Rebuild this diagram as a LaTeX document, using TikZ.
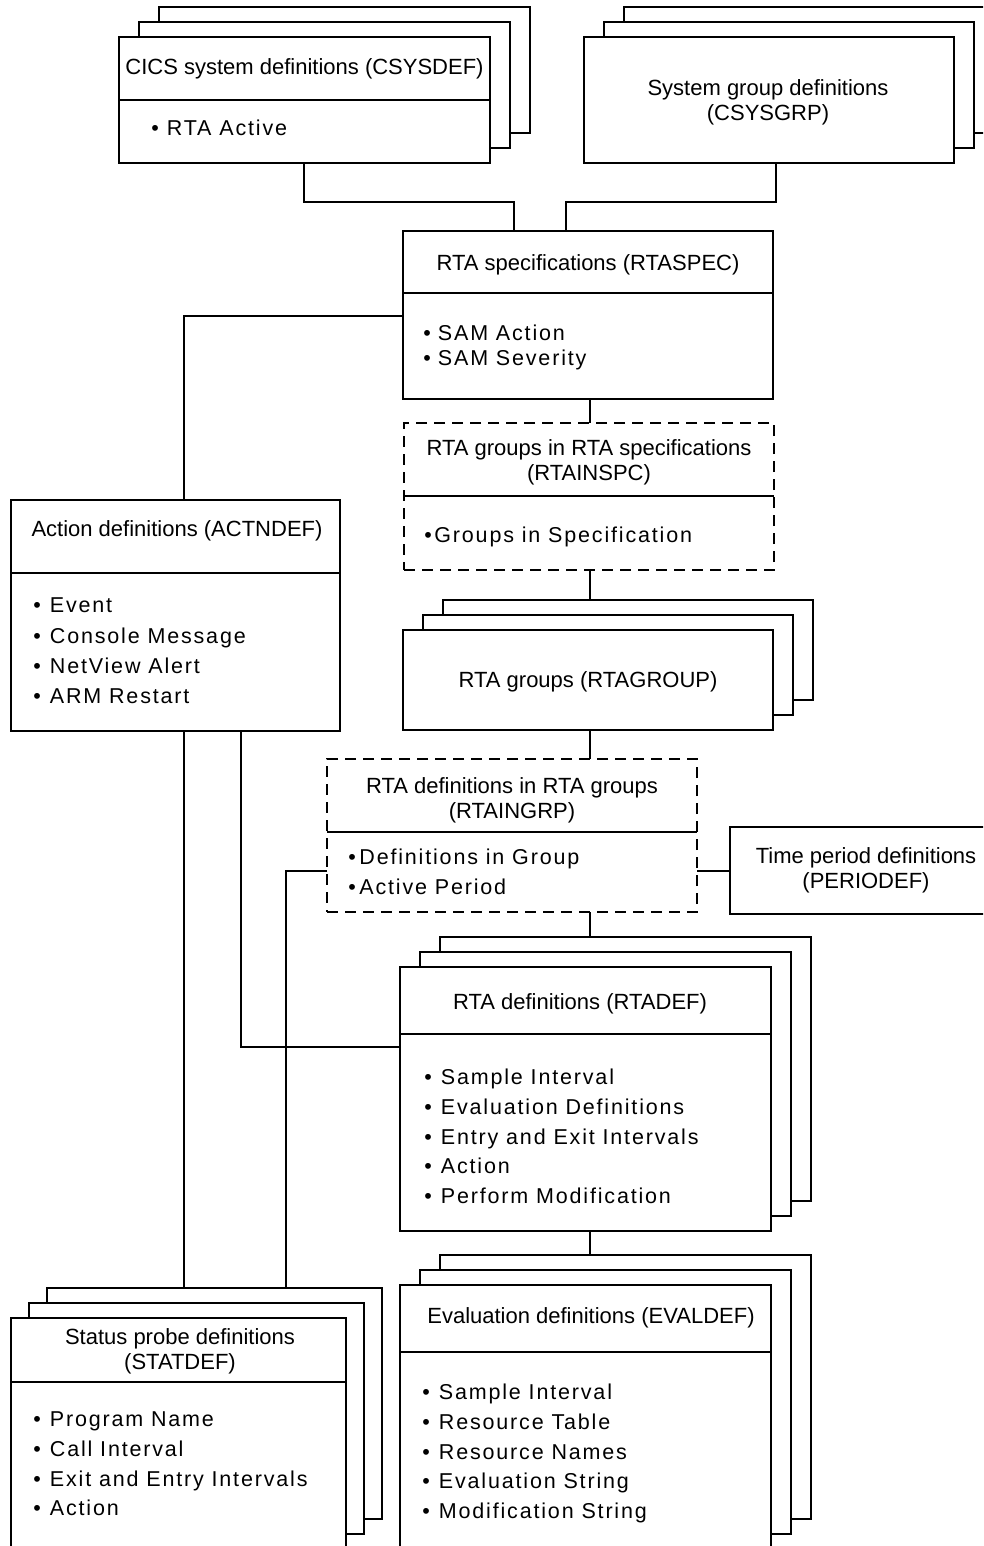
\documentclass[tikz,border=0pt]{standalone}
\usepackage{fontspec}
\setmainfont{Liberation Sans}
\newfontfamily\itemfamily{Liberation Sans}[LetterSpace=8.5]
\tikzset{
  box/.style={draw, line width=1.8pt, fill=white, rectangle, inner sep=0pt, outer sep=0pt, anchor=north west},
  dbox/.style={box, dash pattern=on 11pt off 7pt},
  conn/.style={line width=1.8pt},
  ttl/.style={font=\fontsize{22}{25}\selectfont, align=center, inner sep=0pt},
  itm/.style={font=\itemfamily\fontsize{21.5}{25}\selectfont, inner sep=0pt, anchor=base west},
}
% box by corners: style, name, x1, y1, x2, y2
\newcommand\bx[6][box]{\node[#1, minimum width={(#5)-(#3)}, minimum height={(#6)-(#4)}] (#2) at ({#3},{#4}) {};}
% stack of three boxes: name, x1, y1, x2, y2, dx
\newcommand\stk[6]{%
  \bx{#13}{#2+2*#6}{#3-30}{#4+2*#6}{#5-30}
  \bx{#12}{#2+#6}{#3-15}{#4+#6}{#5-15}
  \bx{#1}{#2}{#3}{#4}{#5}}
% item list: name, bullet centre x, first line centre y, step, gap, list
\newcommand\items[6]{%
  \foreach \t [count=\i from 0] in {#6}
    \node[itm] (#1\i) at ({#2-3.8},{#3+7.7+\i*#4}) {•\hspace{#5}\t};}
\newcommand\divider[2]{\draw[conn] (#1.west |- 0,#2) -- (#1.east |- 0,#2);}
\begin{document}
\begin{tikzpicture}[x=1pt,y=-1pt]
\path[use as bounding box] (0,0) rectangle (983,1546);
\clip (0,0) rectangle (983,1546);

% ---- boxes ----
\stk{csd}{119}{37}{490}{163}{20}
\divider{csd}{100}
\stk{cgrp}{584}{37}{954}{163}{20}
\bx{rspec}{403}{231}{773}{399}
\divider{rspec}{293}
\bx[dbox]{rinspc}{404}{423}{774}{570}
\divider{rinspc}{496}
\bx{actn}{11}{500}{340}{731}
\divider{actn}{573}
\stk{rgrp}{403}{630}{773}{730}{20}
\bx[dbox]{ringrp}{327}{759}{697}{912}
\divider{ringrp}{832}
\bx{period}{730}{827}{1002}{914}
\stk{rdef}{400}{967}{771}{1231}{20}
\divider{rdef}{1034}
\stk{eval}{400}{1285}{771}{1549}{20}
\divider{eval}{1352}
\stk{stat}{11}{1318}{346}{1549}{18}
\divider{stat}{1382}

% ---- connectors ----
\draw[conn] (csd.south -| 304,0) -- ++(0,39) -| (rspec.north -| 514,0);
\draw[conn] (cgrp.south -| 776,0) -- ++(0,39) -| (rspec.north -| 566,0);
\draw[conn] (rspec.west |- 0,316) -| (actn.north -| 184,0);
\draw[conn] (rspec.south -| 590,0) -- (rinspc.north -| 590,0);
\draw[conn] (rinspc.south -| 590,0) -- (rgrp3.north -| 590,0);
\draw[conn] (rgrp.south -| 590,0) -- (ringrp.north -| 590,0);
\draw[conn] (ringrp.east |- 0,871) -- (period.west |- 0,871);
\draw[conn] (ringrp.south -| 590,0) -- (rdef3.north -| 590,0);
\draw[conn] (actn.south -| 241,0) |- (rdef.west |- 0,1047);
\draw[conn] (actn.south -| 184,0) -- (stat3.north -| 184,0);
\draw[conn] (ringrp.west |- 0,871) -| (stat3.north -| 286,0);
\draw[conn] (rdef.south -| 590,0) -- (eval3.north -| 590,0);

% ---- titles ----
\node[ttl, anchor=base] (csdT) at (304.5,74.9) {CICS system definitions (CSYSDEF)};
\node[ttl] (cgrpT) at (768,102) {System group definitions\\(CSYSGRP)};
\node[ttl, anchor=base] (rspecT) at (588,270.9) {RTA specifications (RTASPEC)};
\node[ttl] (rinspcT) at (589,462.5) {RTA groups in RTA specifications\\(RTAINSPC)};
\node[ttl, anchor=base] (actnT) at (177,536.9) {Action definitions (ACTNDEF)};
\node[ttl, anchor=base] (rgrpT) at (588,687.9) {RTA groups (RTAGROUP)};
\node[ttl] (ringrpT) at (512,800.5) {RTA definitions in RTA groups\\(RTAINGRP)};
\node[ttl] (periodT) at (866,870) {Time period definitions\\(PERIODEF)};
\node[ttl, anchor=base] (rdefT) at (580,1009.9) {RTA definitions (RTADEF)};
\node[ttl, anchor=base] (evalT) at (591,1323.9) {Evaluation definitions (EVALDEF)};
\node[ttl] (statT) at (180,1351.5) {Status probe definitions\\(STATDEF)};

% ---- items ----
\items{csdI}{155}{128}{29.5}{8pt}{RTA Active}
\items{rspecI}{427}{333}{24.5}{7pt}{SAM Action,SAM Severity}
\items{rinspcI}{428}{535}{29.5}{2.5pt}{Groups in Specification}
\items{actnI}{37}{605}{30.3}{9pt}{Event,Console Message,NetView Alert,ARM Restart}
\items{ringrpI}{352}{857}{30}{3.5pt}{Definitions in Group,Active Period}
\items{rdefI}{428}{1077}{29.75}{9pt}{Sample Interval,Evaluation Definitions,Entry and Exit Intervals,Action,Perform Modification}
\items{evalI}{426}{1392}{29.75}{9pt}{Sample Interval,Resource Table,Resource Names,Evaluation String,Modification String}
\items{statI}{37}{1419}{29.7}{9pt}{Program Name,Call Interval,Exit and Entry Intervals,Action}
\end{tikzpicture}
\end{document}
